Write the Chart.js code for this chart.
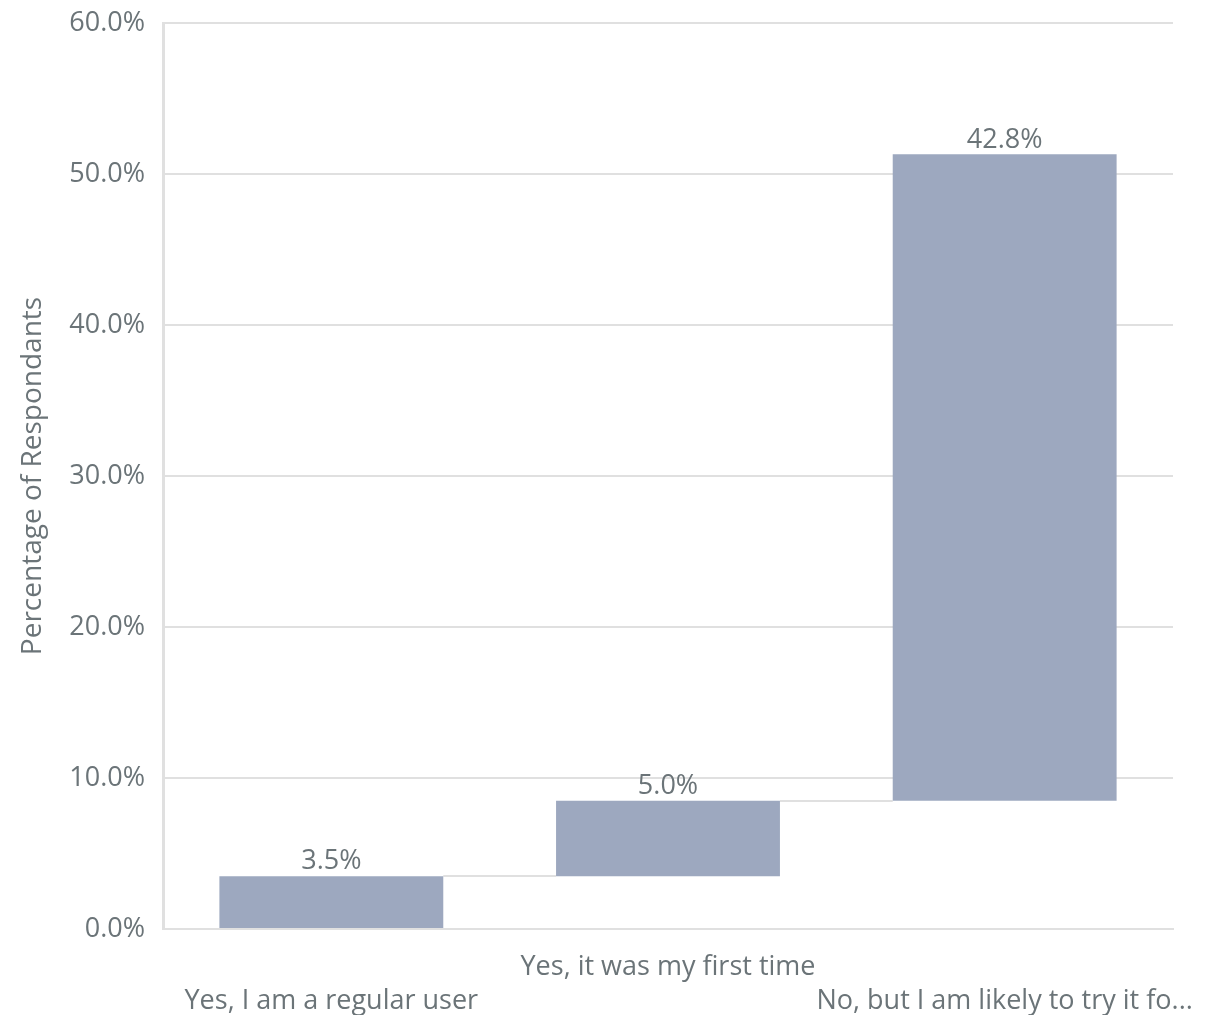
<!DOCTYPE html>
<html>
<head>
<meta charset="utf-8">
<script src="https://cdn.jsdelivr.net/npm/chart.js@4.4.1/dist/chart.umd.min.js"></script>
<style>
  html, body { margin: 0; padding: 0; background: #fff; }
  #wrap { width: 1210px; height: 1015px; }
</style>
</head>
<body>
<div id="wrap"><canvas id="waterfall" width="1210" height="1015"></canvas></div>
<script>
const categories = [
  'Yes, I am a regular user',
  'Yes, it was my first time',
  'No, but I am likely to try it fo...',
];
const shares = [3.5, 5.0, 42.8];
const yTicks = [0, 10, 20, 30, 40, 50, 60];

const textColor = '#6b7478';
const gridColor = '#e0e0e0';
const barColor = '#9da8bf';
const fontFamily = '"Open Sans", sans-serif';

// running totals -> floating [start, end] bars
const ranges = [];
let running = 0;
shares.forEach((v) => {
  ranges.push([running, running + v]);
  running += v;
});

// alternate labels between two rows so they don't collide
const tickLabels = categories.map((c, i) => (i % 2 === 0 ? ['', c] : [c, '']));

const waterfallExtras = {
  id: 'waterfallExtras',
  beforeDatasetsDraw(chart) {
    const { ctx } = chart;
    const y = chart.scales.y;
    const bars = chart.getDatasetMeta(0).data;
    ctx.save();
    ctx.strokeStyle = gridColor;
    ctx.lineWidth = 2;
    for (let i = 0; i < bars.length - 1; i++) {
      const py = Math.round(y.getPixelForValue(ranges[i][1]));
      ctx.beginPath();
      ctx.moveTo(bars[i].x + bars[i].width / 2, py);
      ctx.lineTo(bars[i + 1].x - bars[i + 1].width / 2, py);
      ctx.stroke();
    }
    ctx.restore();
  },
  afterDatasetsDraw(chart) {
    const { ctx } = chart;
    const bars = chart.getDatasetMeta(0).data;
    ctx.save();
    ctx.fillStyle = textColor;
    ctx.font = `27px ${fontFamily}`;
    ctx.textAlign = 'center';
    ctx.textBaseline = 'bottom';
    bars.forEach((bar, i) => {
      ctx.fillText(`${shares[i].toFixed(1)}%`, bar.x, bar.y - 1);
    });
    ctx.restore();
  },
};

new Chart(document.getElementById('waterfall'), {
  type: 'bar',
  data: {
    labels: tickLabels,
    datasets: [{
      data: ranges,
      backgroundColor: barColor,
      borderWidth: 0,
      barPercentage: 0.665,
      categoryPercentage: 1,
    }],
  },
  options: {
    responsive: false,
    animation: false,
    layout: { padding: { top: 23, right: 37, left: 0, bottom: 0 } },
    plugins: {
      legend: { display: false },
      tooltip: { enabled: false },
    },
    scales: {
      x: {
        grid: { display: false, drawTicks: false },
        border: { color: gridColor, width: 2 },
        afterFit: (scale) => {
          scale.height = 86;
          scale.paddingLeft = 0;
          scale.paddingRight = 0;
        },
        ticks: {
          color: textColor,
          font: { family: fontFamily, size: 27, lineHeight: 1.26 },
          maxRotation: 0,
          autoSkip: false,
          padding: 21,
        },
      },
      y: {
        min: yTicks[0],
        max: yTicks[yTicks.length - 1],
        afterBuildTicks: (scale) => { scale.ticks = yTicks.map((v) => ({ value: v })); },
        afterFit: (scale) => {
          scale.width = 163;
          scale.paddingTop = 0;
          scale.paddingBottom = 0;
        },
        grid: { color: gridColor, lineWidth: 2, drawTicks: false },
        border: { color: gridColor, width: 3 },
        ticks: {
          color: textColor,
          font: { family: fontFamily, size: 27 },
          padding: 18,
          callback: (v) => `${Number(v).toFixed(1)}%`,
        },
        title: {
          display: true,
          text: 'Percentage of Respondants',
          color: textColor,
          font: { family: fontFamily, size: 28 },
          padding: { top: 16, bottom: 0 },
        },
      },
    },
  },
  plugins: [waterfallExtras],
});
</script>
</body>
</html>
